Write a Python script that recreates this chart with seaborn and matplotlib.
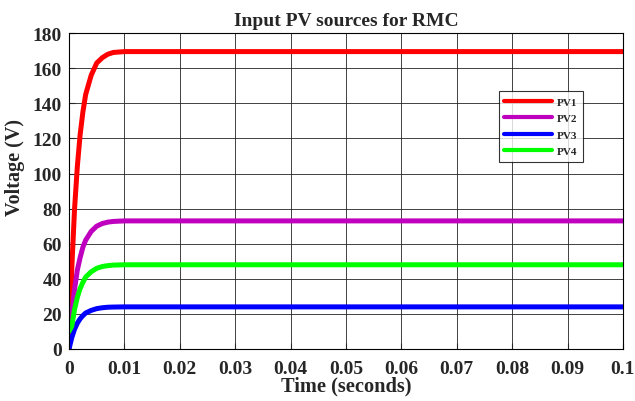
import matplotlib
matplotlib.use("Agg")
import matplotlib.pyplot as plt
import seaborn as sns
import pandas as pd

# Data
time_s = [0, 0.0005, 0.001, 0.0015, 0.002, 0.0025, 0.003, 0.004, 0.005, 0.006, 0.007, 0.008, 0.01, 0.012, 0.1]
pv1 = [0, 46, 80, 104, 122, 135, 145, 156, 163, 166, 168, 169, 169.5, 169.5, 169.5]
pv2 = [12, 20, 34, 45, 52, 58, 62, 67, 70, 71.5, 72.3, 72.7, 73, 73, 73]
pv3 = [0, 6.5, 11.3, 14.7, 17.2, 19, 20.5, 22, 23, 23.5, 23.8, 23.9, 24, 24, 24]
pv4 = [10, 13, 22.6, 29.4, 34.4, 38, 41, 44, 46, 47, 47.5, 47.8, 48, 48, 48]
series_names = ["PV1", "PV2", "PV3", "PV4"]
colors = ["#ff0000", "#bf00bf", "#0000ff", "#00ff00"]

df = pd.concat([
    pd.DataFrame({"t": time_s, "v": vals, "src": name})
    for name, vals in zip(series_names, [pv1, pv2, pv3, pv4])
])

sns.set_style("ticks")
plt.rcParams["font.family"] = ["Liberation Serif", "DejaVu Serif"]
plt.rcParams["font.weight"] = "bold"

fig = plt.figure(figsize=(6.35, 4.02), dpi=100)
ax = fig.add_axes([0.1087, 0.1294, 0.8723, 0.7856])

sns.lineplot(data=df, x="t", y="v", hue="src", palette=colors, linewidth=3.6,
             ax=ax, estimator=None, sort=False)

ax.set_xlim(0, 0.1)
ax.set_ylim(0, 180)
ax.set_xticks([i / 100 for i in range(11)])
ax.set_xticklabels(["0", "0.01", "0.02", "0.03", "0.04", "0.05", "0.06", "0.07", "0.08", "0.09", "0.1"])
ax.set_yticks(range(0, 181, 20))
ax.grid(True, color="#222222", linewidth=0.6)
ax.tick_params(direction="in", labelsize=14, length=4)
ax.tick_params(axis="x", pad=8)
ax.tick_params(axis="y", pad=5)
for lbl in ax.get_xticklabels() + ax.get_yticklabels():
    lbl.set_fontweight("bold")
for sp in ax.spines.values():
    sp.set_linewidth(0.8)
    sp.set_color("black")

ax.set_title("Input PV sources for RMC", fontsize=14, fontweight="bold", pad=6)
ax.set_xlabel("Time (seconds)", fontsize=14.7, fontweight="bold", labelpad=-1)
ax.set_ylabel("Voltage (V)", fontsize=14.5, fontweight="bold")
ax.yaxis.set_label_coords(-0.080, 0.578)

leg = ax.legend(loc="upper left", bbox_to_anchor=(0.776, 0.816), fontsize=8, frameon=True,
                fancybox=False, edgecolor="black", handlelength=4.25, borderpad=0.5,
                labelspacing=0.6, handletextpad=0.5, borderaxespad=0)
leg.get_frame().set_linewidth(0.8)
for line in leg.get_lines():
    line.set_linewidth(3)
for t in leg.get_texts():
    t.set_fontweight("bold")

fig.savefig("out.png", dpi=100)
